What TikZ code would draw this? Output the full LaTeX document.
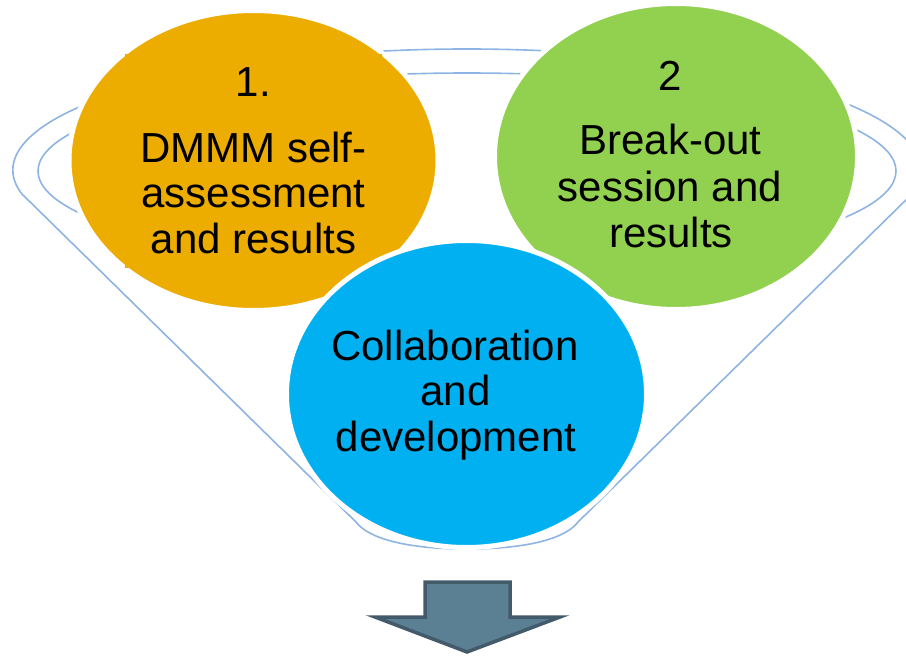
\documentclass[tikz,border=0pt]{standalone}
\usepackage{fontspec}
\setmainfont{Liberation Sans}
\usetikzlibrary{shapes.geometric}
\definecolor{ringblue}{RGB}{141,180,226}
\definecolor{amber}{RGB}{237,172,0}
\definecolor{leaf}{RGB}{146,208,80}
\definecolor{sky}{RGB}{0,176,240}
\definecolor{slatefill}{RGB}{91,127,147}
\definecolor{slateline}{RGB}{67,90,107}
\begin{document}
\begin{tikzpicture}[x=1pt,y=-1pt,
  ring/.style={draw=ringblue, line width=1.6pt},
  bubble/.style={ellipse, draw=white, line width=5pt, inner sep=0pt, outer sep=0pt},
  lbl/.style={inner sep=0pt, anchor=base, font=\fontsize{42}{46}\selectfont},
  downarrow/.style={fill=slatefill, draw=slateline, line width=3.5pt, line join=miter}]
\useasboundingbox (0,0) rectangle (906,656);

% funnel: inner rim and outer body
\draw[ring] (467,171) ellipse [x radius=429, y radius=98];
\draw[ring] (23,195) -- (356,522)
  .. controls (368,538) and (405,549) .. (467,549)
  .. controls (529,549) and (566,538) .. (578,522)
  -- (911,195) arc[start angle=11.93, end angle=-191.93, x radius=454, y radius=121];

% three bubbles
\node[bubble, fill=amber, minimum width=369pt, minimum height=300pt] (self) at (253.5,160.5) {};
\begin{scope}
  \clip (125,54) rectangle (382,267);
  \fill[amber] (253.5,160.5) ellipse [x radius=184.5, y radius=152.5];
\end{scope}
\node[bubble, fill=leaf, minimum width=363pt, minimum height=306pt] (breakout) at (676,156.5) {};
\node[bubble, fill=sky, minimum width=360pt, minimum height=307pt] (collab) at (466.5,394) {};

% bubble texts
\node[lbl] (s0) at (253.5,96) {1.};
\node[lbl] (s1) at (253.5,162) {DMMM self-};
\node[lbl] (s2) at (253.5,207) {assessment};
\node[lbl] (s3) at (253.5,253) {and results};

\node[lbl] (b0) at (670,90) {2};
\node[lbl] (b1) at (670.5,154) {Break-out};
\node[lbl] (b2) at (670,201) {session and};
\node[lbl] (b3) at (671,247) {results};

\node[lbl] (c1) at (455,360) {Collaboration};
\node[lbl] (c2) at (455.5,405) {and};
\node[lbl] (c3) at (456,451) {development};

% block arrow pointing down
\draw[downarrow] (425,582) -- (510,582) -- (510,617) -- (560,617)
  -- (467,652) -- (375,617) -- (425,617) -- cycle;
\end{tikzpicture}
\end{document}
